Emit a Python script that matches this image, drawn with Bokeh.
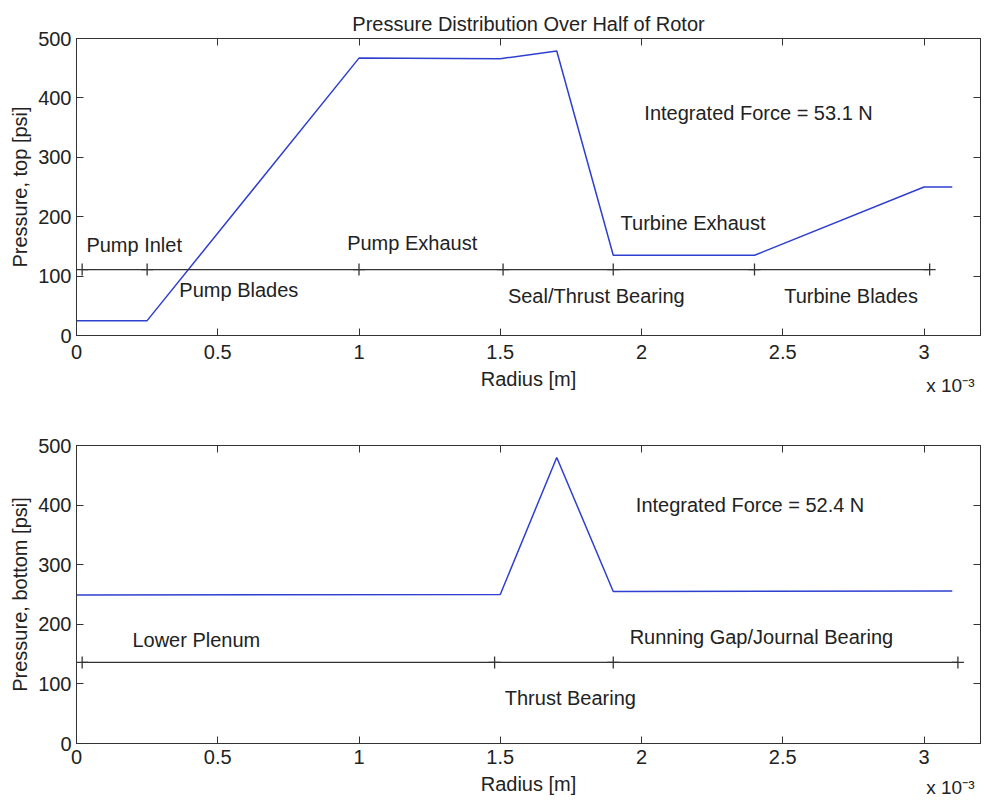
from bokeh.plotting import figure
from bokeh.layouts import column
from bokeh.models import (LinearAxis, FixedTicker, CustomJSTickFormatter, Label,
                          ColumnDataSource, Title)
from bokeh.core.properties import value
from bokeh.embed import file_html
from bokeh.resources import INLINE

# ---- data (radius in units of 1e-3 m, pressure in psi) ----
top_radius = [0.0, 0.25, 1.0, 1.5, 1.7, 1.9, 2.4, 3.0, 3.1]
top_pressure = [25, 25, 467, 466, 479, 135, 135, 250, 250]

bottom_radius = [0.0, 1.5, 1.7, 1.9, 3.1]
bottom_pressure = [249, 250, 480, 255, 256]

# region boundary markers
top_bounds_r = [0.02, 0.25, 1.0, 1.51, 1.9, 2.4, 3.02]
top_bounds_level = 111
bottom_bounds_r = [0.02, 1.48, 1.9, 3.12]
bottom_bounds_level = 136

# region labels
top_region_names = ["Pump Inlet", "Pump Blades", "Pump Exhaust", "Seal/Thrust Bearing",
                     "Turbine Exhaust", "Turbine Blades"]
top_region_x = [0.035, 0.364, 0.958, 1.527, 1.926, 2.505]
top_region_y = [153, 76, 155, 67, 190, 67]

bottom_region_names = ["Lower Plenum", "Thrust Bearing", "Running Gap/Journal Bearing"]
bottom_region_x = [0.198, 1.516, 1.958]
bottom_region_y = [174, 77, 178]

top_force = "Integrated Force = 53.1 N"
bottom_force = "Integrated Force = 52.4 N"

x_ticks = [0, 0.5, 1, 1.5, 2, 2.5, 3]
y_ticks = [0, 100, 200, 300, 400, 500]

FONT = "Liberation Sans"
FS = "20px"
TXT = "#222222"
AX = "#333333"
BLUE = "#2f3fd0"


def style_axes(p, ylabel, xstand):
    fmt = CustomJSTickFormatter(code="return tick.toString();")
    blank = CustomJSTickFormatter(code="return '';")
    bottom = LinearAxis(ticker=FixedTicker(ticks=x_ticks), formatter=fmt, axis_label="Radius [m]")
    left = LinearAxis(ticker=FixedTicker(ticks=y_ticks), formatter=fmt, axis_label=ylabel)
    top = LinearAxis(ticker=FixedTicker(ticks=x_ticks), formatter=blank)
    right = LinearAxis(ticker=FixedTicker(ticks=y_ticks), formatter=blank)
    p.add_layout(bottom, "below")
    p.add_layout(left, "left")
    p.add_layout(top, "above")
    p.add_layout(right, "right")
    for ax in [bottom, left, top, right]:
        ax.major_tick_in = 7
        ax.major_tick_out = 0
        ax.minor_tick_line_color = None
        ax.axis_line_color = AX
        ax.major_tick_line_color = AX
        ax.major_label_text_font = FONT
        ax.major_label_text_font_size = FS
        ax.major_label_text_color = TXT
        ax.axis_label_text_font = FONT
        ax.axis_label_text_font_size = FS
        ax.axis_label_text_font_style = "normal"
        ax.axis_label_text_color = TXT
    bottom.major_label_standoff = xstand
    bottom.axis_label_standoff = 6
    left.major_label_standoff = 5
    left.axis_label_standoff = 4
    top.major_label_standoff = 0
    right.major_label_standoff = 0
    p.outline_line_color = AX


def make(height, top_b, bot_b, left_b, xs, ys, br, blevel, names, nx, ny, force, fx, fy,
         ylabel, xstand, scale_stand, title=None):
    p = figure(width=984, height=height, x_range=(0, 3.2), y_range=(0, 500),
               output_backend="svg", toolbar_location=None, x_axis_location=None,
               y_axis_location=None,
               min_border_top=top_b, min_border_bottom=bot_b,
               min_border_left=left_b, min_border_right=4, title=title)
    p.xgrid.grid_line_color = None
    p.ygrid.grid_line_color = None
    style_axes(p, ylabel, xstand)
    if title:
        p.title.text_font = FONT
        p.title.text_font_size = FS
        p.title.text_font_style = "normal"
        p.title.text_color = TXT
        p.title.align = "center"
        p.title.standoff = 8
    p.line(xs, ys, line_color=BLUE, line_width=1.5)
    p.line(br, [blevel] * len(br), line_color=AX, line_width=1.3)
    p.scatter(br, [blevel] * len(br), marker="cross", size=12, line_color=AX, line_width=1.3)
    src = ColumnDataSource(dict(x=nx, y=ny, t=names))
    p.text("x", "y", "t", source=src, text_font=value(FONT), text_font_size=value(FS),
           text_color=TXT, text_baseline="middle", text_align="left")
    p.add_layout(Label(x=fx, y=fy, text=force, text_font=FONT, text_font_size=FS,
                       text_color=TXT, text_baseline="middle"))
    scale = Title(text="x 10\u207b\u00b3", align="right", vertical_align="top", offset=6,
                  standoff=scale_stand,
                  text_font=FONT, text_font_size="19px", text_font_style="normal",
                  text_color=TXT)
    p.add_layout(scale, "below")
    return p


p1 = make(400, 38, 65, 74, top_radius, top_pressure, top_bounds_r, top_bounds_level,
          top_region_names, top_region_x, top_region_y, top_force, 2.01, 375,
          "Pressure, top [psi]", 9, -36, title="Pressure Distribution Over Half of Rotor")
p2 = make(403, 45, 60, 76, bottom_radius, bottom_pressure, bottom_bounds_r, bottom_bounds_level,
          bottom_region_names, bottom_region_x, bottom_region_y, bottom_force, 1.98, 401,
          "Pressure, bottom [psi]", 6, -42)

layout = column(p1, p2, spacing=0)
open("out.html", "w").write(file_html(layout, INLINE))
